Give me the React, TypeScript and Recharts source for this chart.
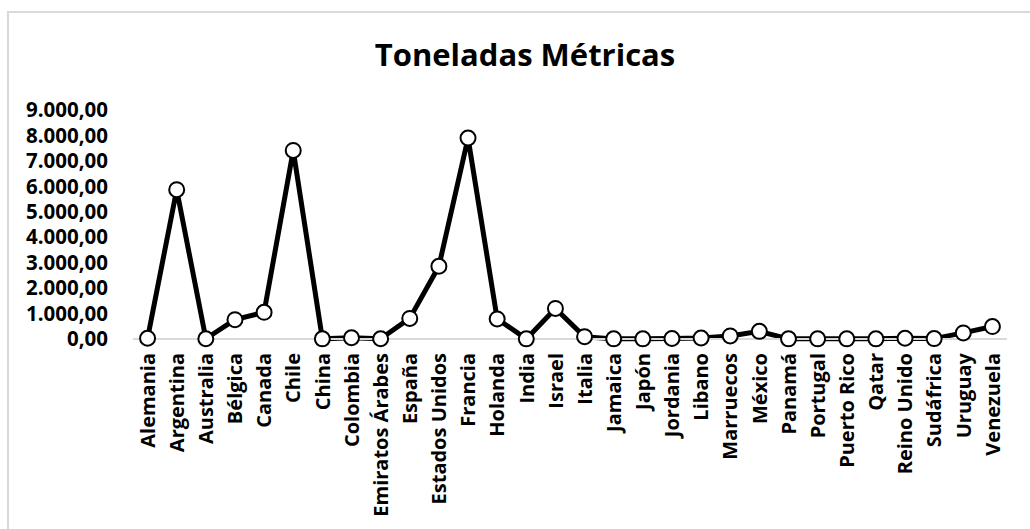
import React from "react";
import { LineChart, Line, XAxis, YAxis } from "recharts";

const paises = [
  "Alemania", "Argentina", "Australia", "Bélgica", "Canada", "Chile", "China",
  "Colombia", "Emiratos Árabes", "España", "Estados Unidos", "Francia", "Holanda",
  "India", "Israel", "Italia", "Jamaica", "Japón", "Jordania", "Libano",
  "Marruecos", "México", "Panamá", "Portugal", "Puerto Rico", "Qatar",
  "Reino Unido", "Sudáfrica", "Uruguay", "Venezuela",
];

const toneladas = [
  30, 5870, 10, 760, 1050, 7410, 5,
  50, 10, 810, 2860, 7900, 790,
  5, 1200, 90, 5, 5, 20, 40,
  120, 300, 5, 5, 5, 5,
  30, 15, 240, 490,
];

const yTicks = [0, 1000, 2000, 3000, 4000, 5000, 6000, 7000, 8000, 9000];

const data = paises.map((pais, i) => ({ pais, toneladas: toneladas[i] }));

const FONT = "'Open Sans', Lato, sans-serif";

// 9000 -> "9.000,00"
const formatoEs = (v: number) => {
  const entero = Math.round(v)
    .toString()
    .replace(/\B(?=(\d{3})+(?!\d))/g, ".");
  return `${entero},00`;
};

const PaisTick = (props: any) => {
  const { x, y, payload } = props;
  return (
    <g transform={`translate(${x},${y})`}>
      <text
        transform="rotate(-90)"
        x={-8}
        y={0}
        dy="0.36em"
        textAnchor="end"
        fontFamily={FONT}
        fontWeight={700}
        fontSize={20}
        fill="#000"
      >
        {payload.value}
      </text>
    </g>
  );
};

export default function App() {
  return (
    <>
      <style>{`html, body { margin: 0; overflow: hidden; }`}</style>
      <div
        style={{
          position: "absolute",
          left: 0,
          top: 0,
          width: 1030,
          height: 529,
          overflow: "hidden",
          background: "#fff",
        }}
      >
        {/* marco del gráfico: sólo se ven el borde superior e izquierdo */}
        <div
          style={{
            position: "absolute",
            left: 7,
            top: 11,
            width: 1023,
            height: 518,
            borderTop: "2px solid #d9d9d9",
            borderLeft: "2px solid #d9d9d9",
            boxSizing: "border-box",
          }}
        />
        <div
          style={{
            position: "absolute",
            left: 0,
            width: 1050,
            top: 34,
            textAlign: "center",
            fontFamily: FONT,
            fontWeight: 700,
            fontSize: 31,
            lineHeight: "40px",
            color: "#000",
          }}
        >
          Toneladas Métricas
        </div>
        <div style={{ position: "absolute", left: 0, top: 0 }}>
          <LineChart
            width={1030}
            height={529}
            data={data}
            margin={{ top: 110, right: 23, bottom: 0, left: 0 }}
          >
            <XAxis
              dataKey="pais"
              scale="band"
              interval={0}
              height={190}
              tickLine={false}
              axisLine={{ stroke: "#d9d9d9", strokeWidth: 2 }}
              tick={<PaisTick />}
              tickSize={0}
              tickMargin={6}
            />
            <YAxis
              width={133}
              domain={[0, 9000]}
              ticks={yTicks}
              interval={0}
              axisLine={false}
              tickLine={false}
              tickSize={0}
              tickMargin={25}
              tickFormatter={formatoEs}
              tick={{ fontFamily: FONT, fontWeight: 700, fontSize: 20.5, fill: "#000" }}
            />
            <Line
              type="linear"
              dataKey="toneladas"
              stroke="#000"
              strokeWidth={5}
              dot={{ r: 7.5, fill: "#fff", stroke: "#000", strokeWidth: 2 }}
              activeDot={false}
              isAnimationActive={false}
            />
          </LineChart>
        </div>
      </div>
    </>
  );
}
